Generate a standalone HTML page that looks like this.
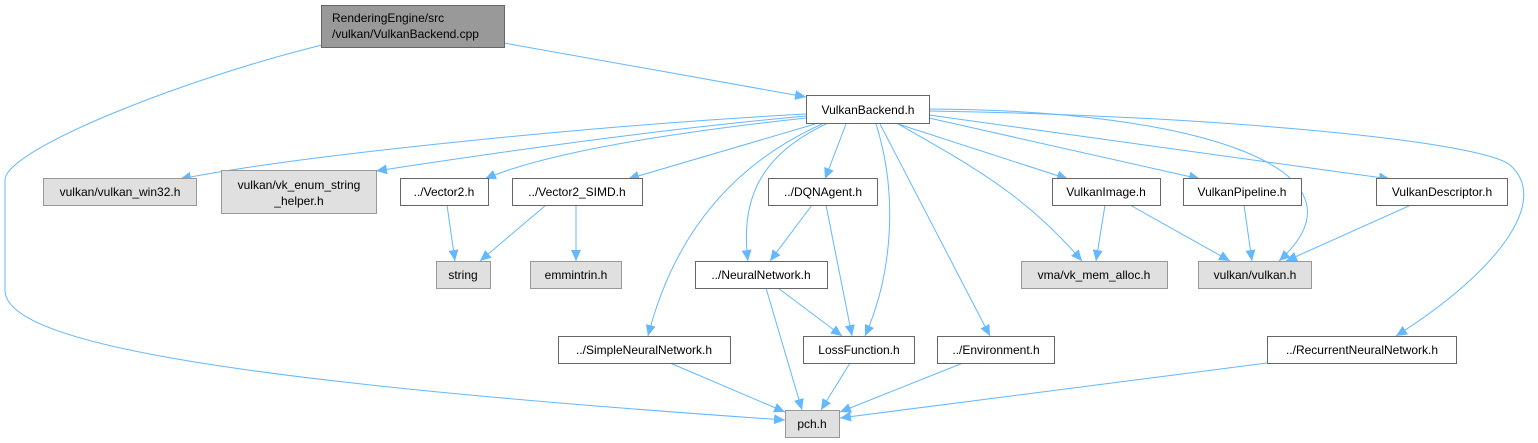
<!DOCTYPE html>
<html><head><meta charset="utf-8"><style>
html,body{margin:0;padding:0;background:#fff;}
svg{display:block;}
text{font-family:"Liberation Sans",sans-serif;font-size:12px;fill:#000;}
</style></head><body>
<svg width="1538" height="443" viewBox="0 0 1538 443" xmlns="http://www.w3.org/2000/svg">
<defs>
<marker id="a" markerUnits="userSpaceOnUse" markerWidth="12" markerHeight="10" refX="11" refY="5" orient="auto">
<path d="M0,0 L11,5 L0,10 z" fill="#63b8ff"/>
</marker>
</defs>
<g fill="none" stroke="#63b8ff" stroke-width="1" marker-end="url(#a)">
<path d="M322,45 C180,80 5,150 5,180 L5,290 C5,340 200,380 785,420"/>
<path d="M504,43 L806,97"/>
<path d="M806,114 C600,125 300,155 180,179"/>
<path d="M806,116 C650,130 480,155 376,171"/>
<path d="M806,118 C650,135 540,155 485,179"/>
<path d="M815,124 L628,179"/>
<path d="M846,124 L825,179"/>
<path d="M826,124 C760,155 740,200 748,261"/>
<path d="M822,124 C720,170 670,250 648,336"/>
<path d="M876,124 C900,200 890,280 865,336"/>
<path d="M880,124 L990,336"/>
<path d="M898,124 C980,170 1030,200 1082,261"/>
<path d="M898,124 L1068,179"/>
<path d="M929,118 L1200,179"/>
<path d="M929,115 L1390,179"/>
<path d="M929,109 C1200,110 1380,170 1279,261"/>
<path d="M929,111 C1200,115 1480,140 1510,165 C1550,200 1500,270 1396,336"/>
<path d="M447,205 L455,261"/>
<path d="M546,205 L480,261"/>
<path d="M576,205 L576,261"/>
<path d="M812,205 L770,261"/>
<path d="M826,205 L852,336"/>
<path d="M778,288 L842,336"/>
<path d="M766,288 L802,410"/>
<path d="M1105,205 L1096,261"/>
<path d="M1130,205 L1230,261"/>
<path d="M1244,205 L1252,261"/>
<path d="M1411,205 L1286,261"/>
<path d="M670,363 L785,412"/>
<path d="M850,363 L821,410"/>
<path d="M963,363 L840,412"/>
<path d="M1267,363 L840,418"/>
</g>
<g stroke="#666" stroke-width="1">
<rect x="321.5" y="5.5" width="183" height="42" fill="#999"/>
<rect x="806.5" y="95.5" width="123" height="28" fill="#fff"/>
<rect x="43.5" y="178.5" width="153" height="27" fill="#e0e0e0" stroke="#999"/>
<rect x="221.5" y="170.5" width="155" height="43" fill="#e0e0e0" stroke="#999"/>
<rect x="400.5" y="178.5" width="88" height="27" fill="#fff"/>
<rect x="512.5" y="178.5" width="130" height="27" fill="#fff"/>
<rect x="768.5" y="178.5" width="109" height="27" fill="#fff"/>
<rect x="1052.5" y="178.5" width="108" height="27" fill="#fff"/>
<rect x="1183.5" y="178.5" width="118" height="27" fill="#fff"/>
<rect x="1376.5" y="178.5" width="131" height="27" fill="#fff"/>
<rect x="436.5" y="261.5" width="54" height="27" fill="#e0e0e0" stroke="#999"/>
<rect x="530.5" y="261.5" width="91" height="27" fill="#e0e0e0" stroke="#999"/>
<rect x="695.5" y="261.5" width="132" height="27" fill="#fff"/>
<rect x="1021.5" y="261.5" width="146" height="27" fill="#e0e0e0" stroke="#999"/>
<rect x="1198.5" y="261.5" width="113" height="27" fill="#e0e0e0" stroke="#999"/>
<rect x="558.5" y="336.5" width="172" height="27" fill="#fff"/>
<rect x="803.5" y="336.5" width="111" height="27" fill="#fff"/>
<rect x="937.5" y="336.5" width="117" height="27" fill="#fff"/>
<rect x="1267.5" y="336.5" width="189" height="27" fill="#fff"/>
<rect x="785.5" y="410.5" width="54" height="27" fill="#e0e0e0" stroke="#999"/>
</g>
<g>
<text x="332" y="22">RenderingEngine/src</text>
<text x="332" y="38">/vulkan/VulkanBackend.cpp</text>
<g text-anchor="middle">
<text x="868" y="114">VulkanBackend.h</text>
<text x="120" y="196">vulkan/vulkan_win32.h</text>
<text x="299" y="189">vulkan/vk_enum_string</text>
<text x="299" y="205">_helper.h</text>
<text x="444" y="196">../Vector2.h</text>
<text x="577" y="196">../Vector2_SIMD.h</text>
<text x="823" y="196">../DQNAgent.h</text>
<text x="1106" y="196">VulkanImage.h</text>
<text x="1242" y="196">VulkanPipeline.h</text>
<text x="1442" y="196">VulkanDescriptor.h</text>
<text x="463" y="279">string</text>
<text x="576" y="279">emmintrin.h</text>
<text x="761" y="279">../NeuralNetwork.h</text>
<text x="1094" y="279">vma/vk_mem_alloc.h</text>
<text x="1255" y="279">vulkan/vulkan.h</text>
<text x="644" y="354">../SimpleNeuralNetwork.h</text>
<text x="859" y="354">LossFunction.h</text>
<text x="996" y="354">../Environment.h</text>
<text x="1362" y="354">../RecurrentNeuralNetwork.h</text>
<text x="812" y="428">pch.h</text>
</g>
</g>
</svg>
</body></html>
